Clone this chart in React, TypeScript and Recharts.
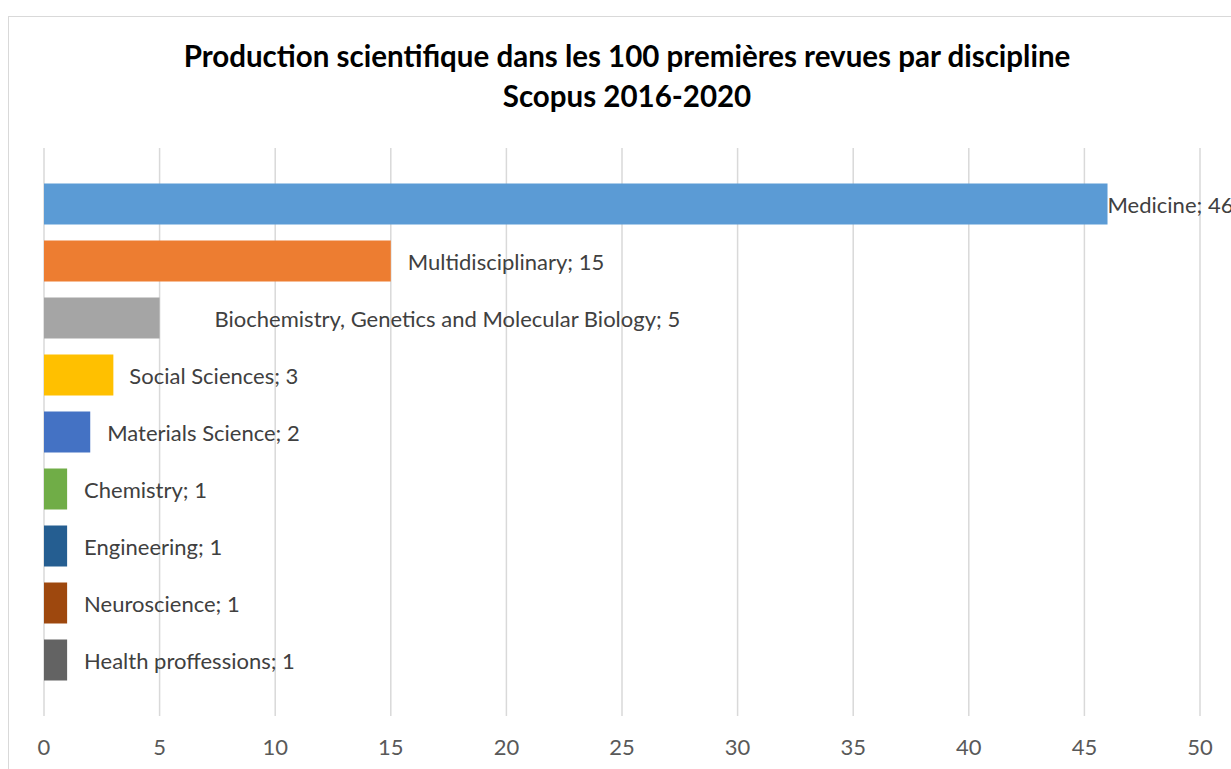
import { Bar, BarChart, CartesianGrid, Cell, LabelList, XAxis, YAxis } from 'recharts'

const CATEGORIES = [
  'Medicine',
  'Multidisciplinary',
  'Biochemistry, Genetics and Molecular Biology',
  'Social Sciences',
  'Materials Science',
  'Chemistry',
  'Engineering',
  'Neuroscience',
  'Health proffessions',
]
const COUNTS = [46, 15, 5, 3, 2, 1, 1, 1, 1]
const X_TICKS = [0, 5, 10, 15, 20, 25, 30, 35, 40, 45, 50]

const COLORS = ['#5b9bd5', '#ed7d31', '#a5a5a5', '#ffc000', '#4472c4', '#70ad47', '#255e91', '#9e480e', '#636363']
// label gap after bar end (Excel placed a couple of them differently)
const LABEL_DX = [0, 17, 55, 16, 17, 17, 17, 17, 17]

const data = CATEGORIES.map((name, i) => ({ name, value: COUNTS[i] }))

const FONT = 'Lato, "Open Sans", sans-serif'

function BarLabel(props: any) {
  const { x, y, width, height, index, value } = props
  return (
    <text
      x={x + width + LABEL_DX[index]}
      y={y + height / 2}
      dominantBaseline="central"
      fill="#404040"
      fontSize={22}
      fontFamily={FONT}
    >
      {`${CATEGORIES[index]}; ${value}`}
    </text>
  )
}

export default function App() {
  return (
    <div style={{ position: 'relative', width: 1231, height: 769, overflow: 'hidden', fontFamily: FONT }}>
      <style>{'body{margin:0;overflow:hidden}'}</style>
      <div
        style={{
          position: 'absolute',
          left: 8,
          top: 16,
          width: 1260,
          height: 790,
          border: '1px solid #d9d9d9',
          background: '#fff',
        }}
      >
        <div
          style={{
            position: 'absolute',
            left: 0,
            width: 1236,
            top: 19,
            textAlign: 'center',
            fontWeight: 700,
            fontSize: 29.5,
            lineHeight: '40px',
            color: '#000',
          }}
        >
          <div>Production scientifique dans les 100 premières revues par discipline</div>
          <div>Scopus 2016-2020</div>
        </div>
        <BarChart
          width={1260}
          height={790}
          data={data}
          layout="vertical"
          margin={{ top: 131, right: 69, left: 35, bottom: 61 }}
        >
          <CartesianGrid vertical horizontal={false} stroke="#d9d9d9" strokeWidth={1.5} />
          <XAxis
            type="number"
            domain={[0, 50]}
            ticks={X_TICKS}
            axisLine={false}
            tickLine={false}
            tickMargin={17.5}
            tick={{ fill: '#595959', fontSize: 22, fontFamily: FONT }}
          />
          <YAxis type="category" dataKey="name" hide padding={{ top: 27.5, bottom: 27.5 }} />
          <Bar dataKey="value" barSize={41} isAnimationActive={false}>
            {data.map((d, i) => (
              <Cell key={d.name} fill={COLORS[i]} />
            ))}
            <LabelList dataKey="value" content={BarLabel} />
          </Bar>
        </BarChart>
      </div>
    </div>
  )
}
